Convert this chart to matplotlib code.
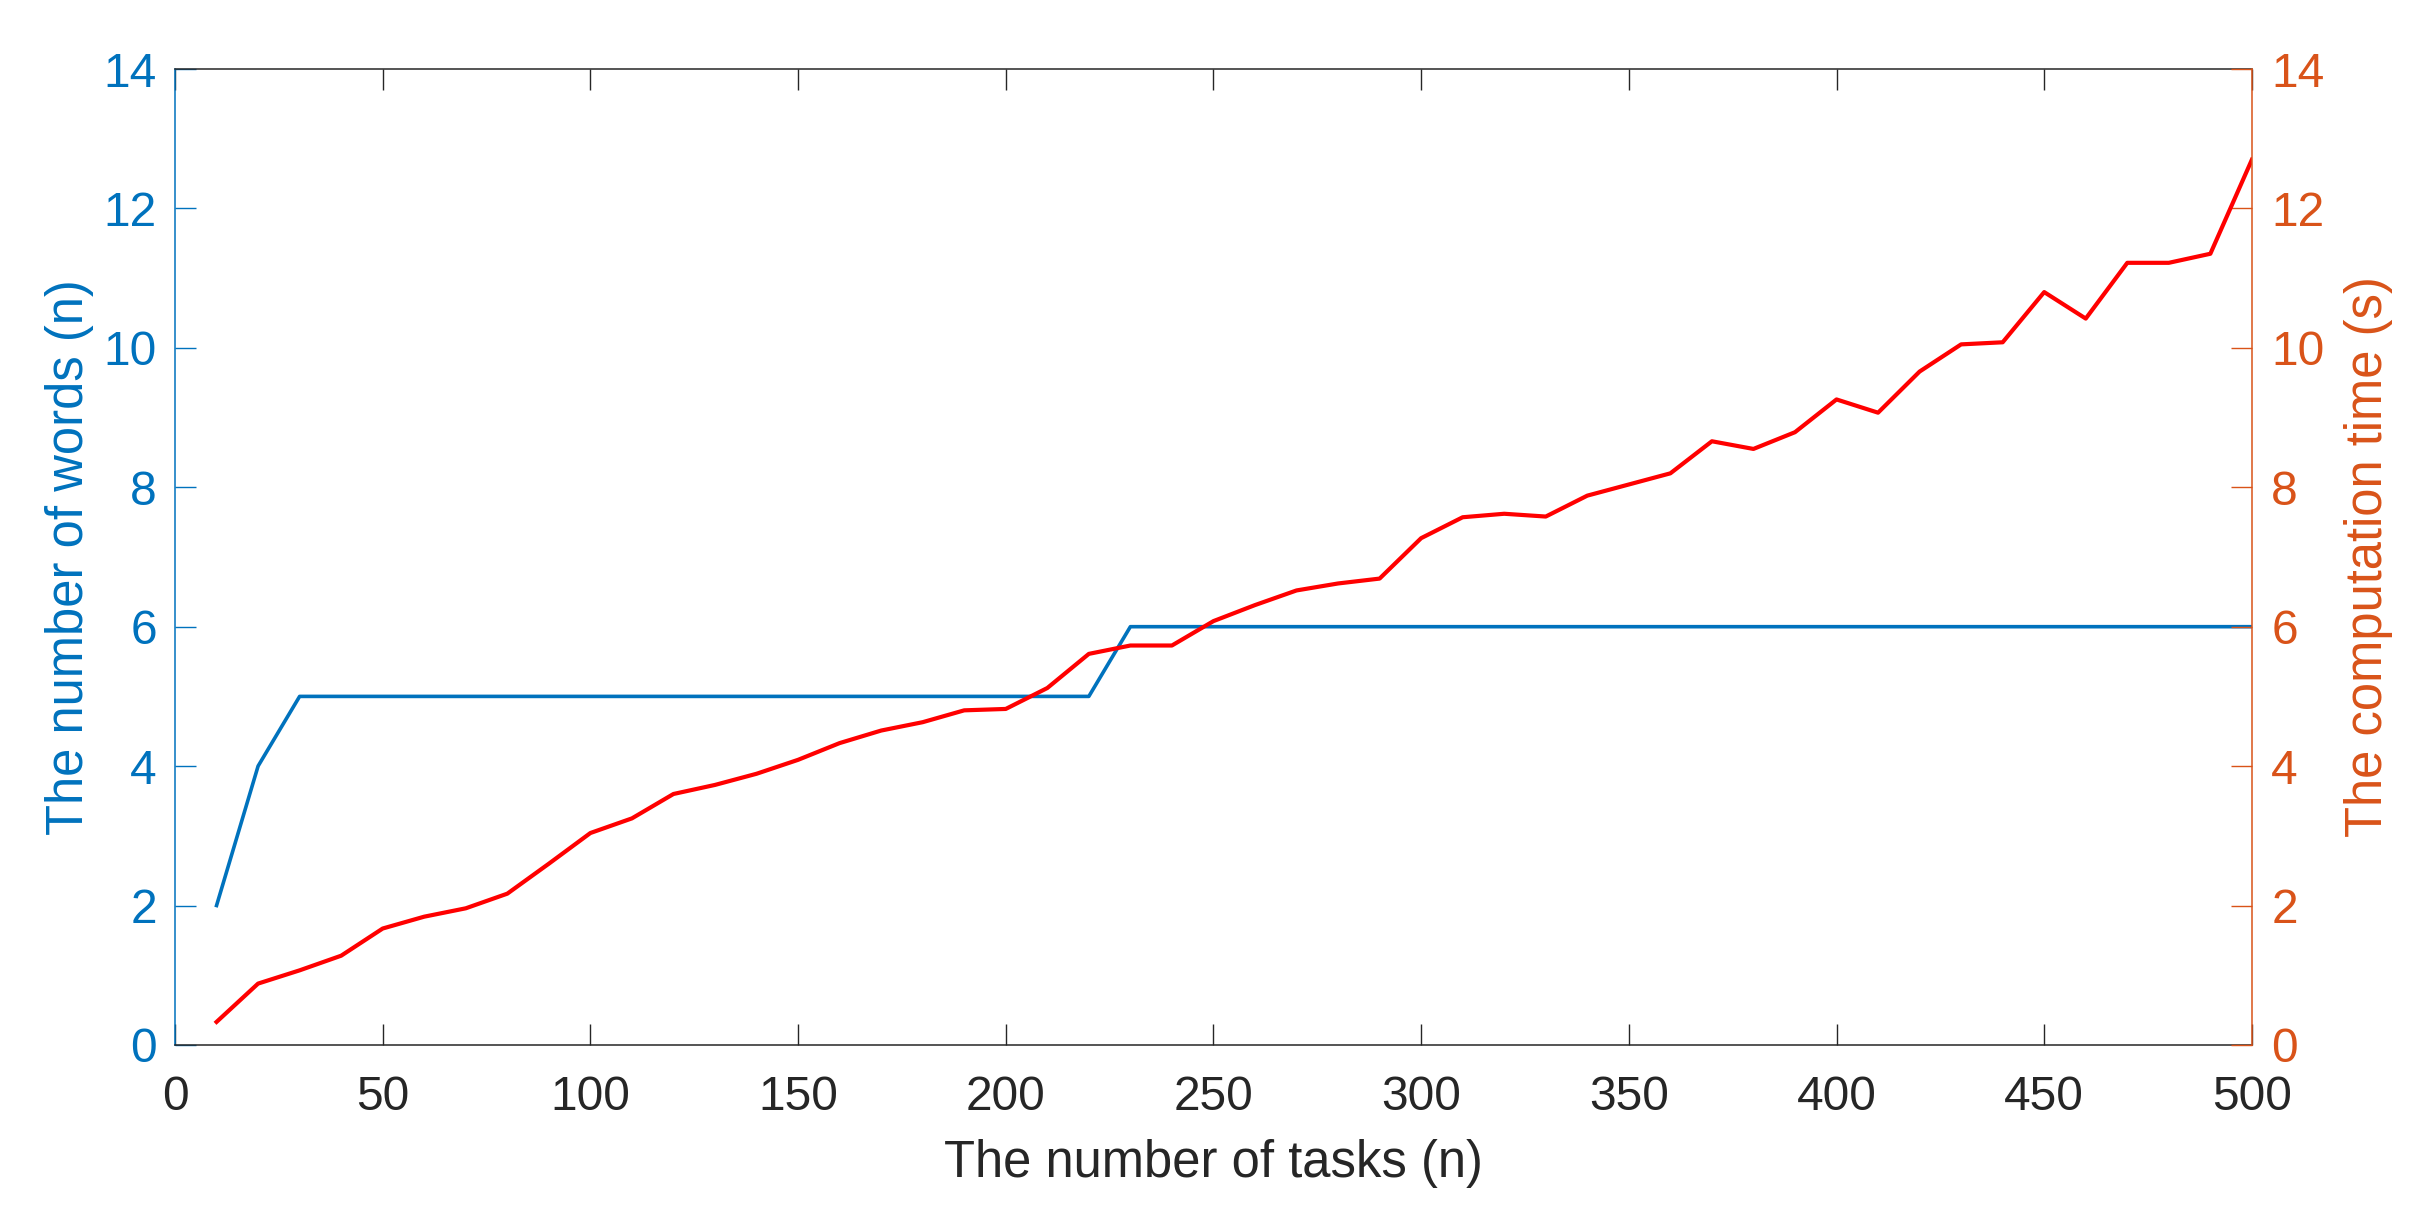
import matplotlib.pyplot as plt

plt.rcParams['font.family'] = ['Liberation Sans', 'DejaVu Sans']

blue = '#0072BD'
orange = '#D95319'
dark = '#262626'

tasks = list(range(10, 501, 10))
words = [2, 4,
         5, 5, 5, 5, 5, 5, 5, 5, 5, 5, 5, 5, 5, 5, 5, 5, 5, 5, 5, 5,
         6, 6, 6, 6, 6, 6, 6, 6, 6, 6, 6, 6, 6, 6, 6, 6, 6, 6, 6, 6,
         6, 6, 6, 6, 6, 6, 6, 6]
comp_time = [0.33, 0.88, 1.07, 1.28, 1.67, 1.84, 1.96, 2.17, 2.60, 3.04,
             3.25, 3.60, 3.73, 3.89, 4.09, 4.33, 4.51, 4.63, 4.80, 4.82,
             5.12, 5.61, 5.73, 5.73, 6.08, 6.31, 6.52, 6.62, 6.69, 7.27,
             7.57, 7.62, 7.58, 7.88, 8.04, 8.20, 8.66, 8.55, 8.79, 9.26,
             9.07, 9.66, 10.05, 10.08, 10.80, 10.42, 11.22, 11.22, 11.35, 12.70]

fig = plt.figure(figsize=(24.24, 12.24), dpi=100)
ax = fig.add_axes([0.0722, 0.1463, 0.8568, 0.7973])
ax2 = ax.twinx()

ax.plot(tasks, words, color=blue, lw=2.6)
ax2.plot(tasks, comp_time, color='red', lw=3.0)

ax.set_xlim(0, 500)
ax.set_ylim(0, 14)
ax2.set_ylim(0, 14)
ax.set_xticks(range(0, 501, 50))
ax.set_yticks(range(0, 15, 2))
ax2.set_yticks(range(0, 15, 2))

# spines, matlab yyaxis look
ax.spines['left'].set_color(blue)
ax.spines['top'].set_color(dark)
ax.spines['bottom'].set_color(dark)
ax.spines['right'].set_visible(False)
ax2.spines['right'].set_color(orange)
for s in ['left', 'top', 'bottom']:
    ax2.spines[s].set_visible(False)
for a in (ax, ax2):
    for s in a.spines.values():
        s.set_linewidth(1.1)

ax.tick_params(axis='x', direction='in', top=True, length=15, width=1.0,
               colors=dark, labelsize=34.5, pad=22)
ax.tick_params(axis='y', direction='in', length=15, width=1.0,
               colors=blue, labelsize=34.5, pad=13)
ax2.tick_params(axis='y', direction='in', length=15, width=1.0,
                colors=orange, labelsize=34.5, pad=14)

ax.set_xlabel('The number of tasks (n)', fontsize=36.5, color=dark, labelpad=13)
ax.set_ylabel('The number of words (n)', fontsize=36.5, color=blue, labelpad=7)
ax2.set_ylabel('The computation time (s)', fontsize=36.5, color=orange, labelpad=14)

fig.savefig('out.png', dpi=100, facecolor='white')
